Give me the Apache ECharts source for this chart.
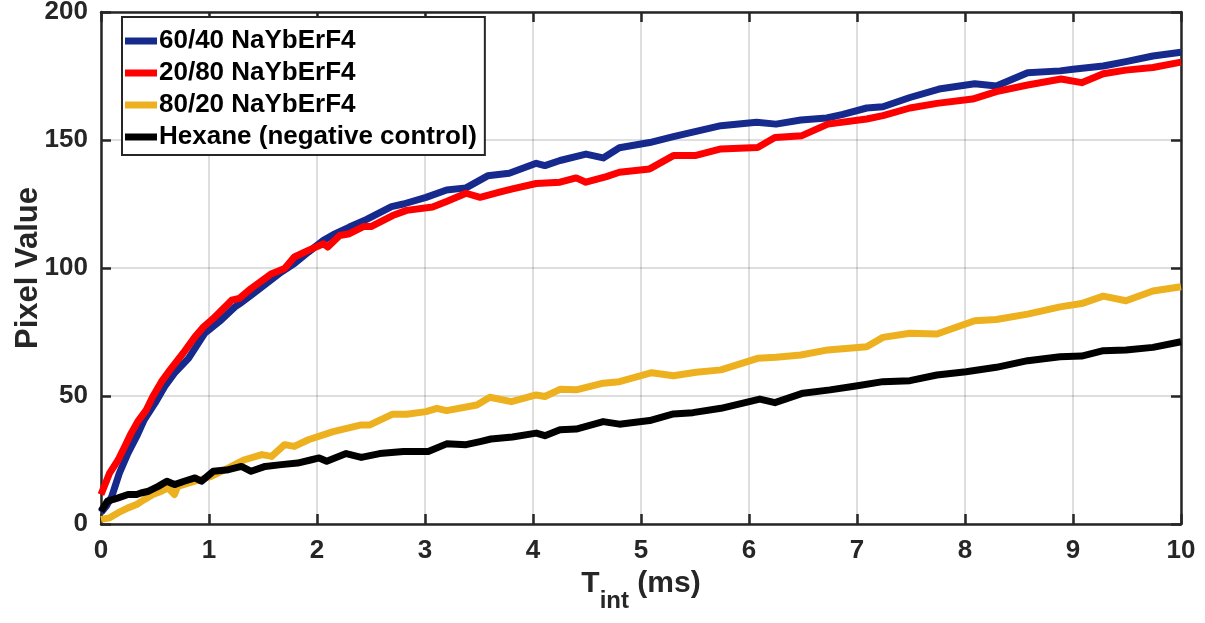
<!DOCTYPE html>
<html>
<head>
<meta charset="utf-8">
<script src="https://cdn.jsdelivr.net/npm/echarts@6/dist/echarts.min.js"></script>
<style>html,body{margin:0;padding:0;background:#fff}#c{width:1205px;height:623px}</style>
</head>
<body>
<div id="c"></div>
<script>
// Series names
const seriesNames = ['60/40 NaYbErF4', '20/80 NaYbErF4', '80/20 NaYbErF4', 'Hexane (negative control)'];
const seriesColors = ['#16298C', '#FF0000', '#EDB120', '#000000'];

// 60/40 NaYbErF4 (blue)
const t6040 = [0,0.05,0.10,0.17,0.25,0.33,0.40,0.50,0.59,0.68,0.81,0.87,0.96,1.11,1.24,1.30,1.39,1.55,1.67,1.79,1.92,2.06,2.15,2.30,2.46,2.69,2.80,3.01,3.20,3.38,3.58,3.78,4.03,4.11,4.25,4.49,4.65,4.80,5.08,5.30,5.51,5.74,6.07,6.25,6.48,6.72,6.87,7.09,7.24,7.49,7.76,8.09,8.29,8.58,8.88,9.00,9.28,9.49,9.74,10.0];
const v6040 = [4.5,7,10.8,19.9,27.7,34.2,40.7,47.2,53.7,58.9,64.7,68.6,74.5,79.6,84.8,86.5,89.4,94.5,98.4,101.7,106.2,110.8,113,116,119,124,125,127.6,130.5,131.3,136,137,140.9,140,142,144.5,143,147,149,151.3,153.4,155.6,156.9,156.2,157.8,158.6,160,162.5,163,166.6,169.9,172,171.1,176.3,177,177.6,178.9,180.6,182.8,184.3];

// 20/80 NaYbErF4 (red)
const t2080 = [0,0.08,0.16,0.22,0.28,0.34,0.42,0.48,0.56,0.65,0.76,0.87,0.95,1.04,1.21,1.28,1.39,1.58,1.70,1.79,1.92,2.06,2.10,2.21,2.30,2.43,2.50,2.70,2.83,3.07,3.20,3.38,3.51,3.69,3.81,4.03,4.25,4.40,4.49,4.68,4.80,5.08,5.30,5.50,5.74,6.08,6.24,6.49,6.73,7.09,7.24,7.49,7.74,8.07,8.29,8.58,8.89,9.08,9.28,9.49,9.74,10.0];
const v2080 = [11.5,19.9,25.1,30.3,35.5,40,44.6,49.8,55.6,60.8,66.7,73.1,77,80.3,87.4,88.1,92,97.8,99.8,104.3,106.9,109.5,108.2,112.7,113.4,116.2,116.2,120.5,122.5,123.8,126,129.2,127.6,129.6,130.9,133,133.5,135.2,133.5,135.7,137.4,138.7,143.9,143.9,146.5,147.1,151,151.7,156.2,158.2,159.5,162.5,164.3,166,168.9,171.5,173.8,172.4,175.9,177.3,178.3,180.4];

// 80/20 NaYbErF4 (yellow)
const t8020 = [0,0.08,0.16,0.25,0.33,0.40,0.48,0.56,0.62,0.68,0.71,0.87,1.02,1.18,1.33,1.49,1.58,1.70,1.79,1.92,2.15,2.41,2.49,2.70,2.83,3.01,3.11,3.20,3.48,3.60,3.80,4.03,4.11,4.25,4.40,4.65,4.80,5.10,5.30,5.51,5.74,6.08,6.25,6.48,6.73,7.09,7.24,7.49,7.74,8.09,8.29,8.58,8.88,9.08,9.28,9.49,9.74,10.0];
const v8020 = [1.8,2.4,4.4,6.3,7.6,9.5,11.5,12.8,14.1,11.5,14.7,16.7,18.6,21.9,25.1,27.1,26.4,31,30.3,32.9,36.1,38.7,38.7,42.9,42.9,43.9,45.2,44.3,46.5,49.5,47.8,50.4,49.8,52.6,52.4,55,55.6,59.1,57.9,59.3,60.2,64.7,65.1,66,68,69.2,72.9,74.5,74.2,79.4,79.9,82,84.8,86.1,89,87.2,91,92.7];

// Hexane (negative control) (black)
const tHex = [0,0.06,0.16,0.25,0.33,0.37,0.44,0.53,0.61,0.68,0.77,0.87,0.93,1.04,1.18,1.30,1.39,1.52,1.67,1.82,1.95,2.02,2.09,2.27,2.41,2.58,2.80,3.03,3.20,3.38,3.51,3.61,3.81,4.03,4.11,4.25,4.40,4.65,4.80,5.08,5.30,5.48,5.74,6.10,6.24,6.50,6.75,6.99,7.24,7.49,7.74,8.01,8.29,8.58,8.88,9.08,9.28,9.49,9.74,10.0];
const vHex = [5,8.9,10.2,11.5,11.5,12.1,12.8,14.7,16.7,15.4,16.7,18,16.7,20.6,21.2,22.5,20.6,22.5,23.2,23.8,25.1,25.8,24.5,27.5,26,27.5,28.3,28.3,31.3,31,32.2,33.2,34,35.5,34.5,36.8,37.1,40,39,40.4,43,43.5,45.2,48.8,47.4,51.1,52.4,53.9,55.6,56,58.2,59.5,61.2,63.8,65.3,65.6,67.7,68,69,71.2];

const xTicks = [0,1,2,3,4,5,6,7,8,9,10];
const yTicks = [0,50,100,150,200];

const allT = [t6040, t2080, t8020, tHex];
const allV = [v6040, v2080, v8020, vHex];

const FONT = '"Liberation Sans", Arial, sans-serif';
const AX = '#262626';

const chart = echarts.init(document.getElementById('c'), null, {renderer: 'canvas'});

const series = seriesNames.map((name, i) => ({
  name: name,
  type: 'line',
  data: allT[i].map((t, k) => [t, allV[i][k]]),
  showSymbol: false,
  symbol: 'none',
  color: seriesColors[i],
  lineStyle: {width: 7, color: seriesColors[i], join: 'round'},
  z: 3 + i,
  animation: false
}));

chart.setOption({
  animation: false,
  backgroundColor: '#fff',
  grid: {left: 101, right: 24, top: 12, bottom: 99, containLabel: false, outerBoundsMode: 'none'},
  legend: {
    data: seriesNames,
    orient: 'vertical',
    left: 122, top: 17,
    icon: 'rect',
    itemWidth: 32, itemHeight: 7,
    itemGap: 6,
    padding: [11, 8, 5, 3],
    backgroundColor: '#fff',
    borderColor: AX, borderWidth: 2,
    textStyle: {fontFamily: FONT, fontWeight: 'bold', fontSize: 26, color: '#000', lineHeight: 26, padding: [0,0,0,-3]},
    z: 10
  },
  xAxis: [{
    type: 'value', min: 0, max: 10, interval: 1,
    name: '{b|T}{s|int}{b| (ms)}',
    nameLocation: 'middle', nameGap: 44,
    nameTextStyle: {
      rich: {
        b: {fontFamily: FONT, fontWeight: 'bold', fontSize: 30, color: AX, lineHeight: 44, verticalAlign: 'top'},
        s: {fontFamily: FONT, fontWeight: 'bold', fontSize: 24, color: AX, lineHeight: 44, verticalAlign: 'bottom'}
      }
    },
    axisLine: {show: true, onZero: false, lineStyle: {color: AX, width: 2.5}},
    axisTick: {show: true, inside: true, length: 10, lineStyle: {color: AX, width: 2.5}},
    axisLabel: {fontFamily: FONT, fontWeight: 'bold', fontSize: 26, color: AX, margin: 14,
      formatter: v => xTicks.includes(v) ? String(v) : ''},
    splitLine: {show: true, lineStyle: {color: 'rgba(0,0,0,0.13)', width: 2}}
  }, {
    type: 'value', min: 0, max: 10, interval: 1, position: 'top',
    axisLine: {show: true, onZero: false, lineStyle: {color: AX, width: 2.5}},
    axisTick: {show: true, inside: true, length: 10, lineStyle: {color: AX, width: 2.5}},
    axisLabel: {show: false}, splitLine: {show: false}
  }],
  yAxis: [{
    type: 'value', min: 0, max: 200, interval: 50,
    name: 'Pixel Value', nameLocation: 'middle', nameGap: 57, nameRotate: 90,
    nameMoveOverlap: false,
    nameTextStyle: {fontFamily: FONT, fontWeight: 'bold', fontSize: 31, color: AX},
    axisLine: {show: true, onZero: false, lineStyle: {color: AX, width: 2.5}},
    axisTick: {show: true, inside: true, length: 10, lineStyle: {color: AX, width: 2.5}},
    axisLabel: {fontFamily: FONT, fontWeight: 'bold', fontSize: 26, color: AX, margin: 13,
      formatter: v => yTicks.includes(v) ? String(v) : ''},
    splitLine: {show: true, lineStyle: {color: 'rgba(0,0,0,0.13)', width: 2}}
  }, {
    type: 'value', min: 0, max: 200, interval: 50, position: 'right',
    axisLine: {show: true, onZero: false, lineStyle: {color: AX, width: 2.5}},
    axisTick: {show: true, inside: true, length: 10, lineStyle: {color: AX, width: 2.5}},
    axisLabel: {show: false}, splitLine: {show: false}
  }],
  series: series
});
</script>
</body>
</html>
